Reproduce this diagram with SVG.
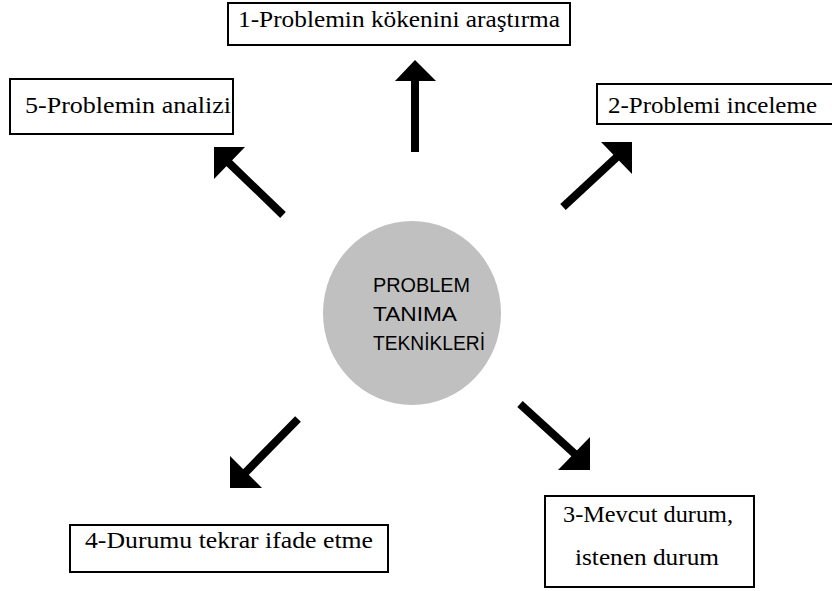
<svg xmlns="http://www.w3.org/2000/svg" width="832" height="591" viewBox="0 0 832 591">
<style>
.box{fill:#fff;stroke:#000;stroke-width:2}
.lbl{font-family:"Liberation Serif","Times New Roman",serif;font-size:23px;fill:#000}
.ctr{font-family:"Liberation Sans",Arial,sans-serif;font-size:21px;fill:#000}
.shaft{stroke:#000;stroke-width:8;fill:none;stroke-linecap:butt}
.head{fill:#000}
</style>
<rect width="832" height="591" fill="#fff"/>
<g id="center">
<ellipse cx="412" cy="313" rx="89" ry="92" fill="#c0c0c0"/>
<text class="ctr" x="373" y="292" textLength="97" lengthAdjust="spacingAndGlyphs">PROBLEM</text>
<text class="ctr" x="373" y="321" textLength="84" lengthAdjust="spacingAndGlyphs">TANIMA</text>
<text class="ctr" x="373" y="350" textLength="112" lengthAdjust="spacingAndGlyphs">TEKNİKLERİ</text>
</g>
<g id="node1">
<rect class="box" x="228" y="3" width="342" height="42"/>
<text class="lbl" x="238" y="27" textLength="322" lengthAdjust="spacingAndGlyphs">1-Problemin kökenini araştırma</text>
</g>
<g id="node2">
<rect class="box" x="597" y="84" width="240" height="40"/>
<text class="lbl" x="608" y="113" textLength="209" lengthAdjust="spacingAndGlyphs">2-Problemi inceleme</text>
</g>
<g id="node3">
<rect class="box" x="545" y="496" width="209" height="91"/>
<text class="lbl" x="563" y="522" textLength="170" lengthAdjust="spacingAndGlyphs">3-Mevcut durum,</text>
<text class="lbl" x="575" y="565" textLength="144" lengthAdjust="spacingAndGlyphs">istenen durum</text>
</g>
<g id="node4">
<rect class="box" x="70" y="525" width="318" height="47"/>
<text class="lbl" x="85" y="548" textLength="288" lengthAdjust="spacingAndGlyphs">4-Durumu tekrar ifade etme</text>
</g>
<g id="node5">
<rect class="box" x="10" y="79" width="223" height="55"/>
<text class="lbl" x="25" y="113" textLength="206" lengthAdjust="spacingAndGlyphs">5-Problemin analizi</text>
</g>
<g id="connectors">
<line class="shaft" x1="415" y1="152" x2="415" y2="79"/>
<polygon class="head" points="415,60 436,81 395,81"/>
<line class="shaft" x1="283" y1="215" x2="228" y2="162"/>
<polygon class="head" points="214,147 245,147 214,179"/>
<line class="shaft" x1="563" y1="207" x2="618" y2="156"/>
<polygon class="head" points="632,142 601,142 632,174"/>
<line class="shaft" x1="298" y1="419" x2="245" y2="473"/>
<polygon class="head" points="230,488 230,456 262,488"/>
<line class="shaft" x1="520" y1="404" x2="576" y2="455"/>
<polygon class="head" points="590,470 590,437 558,470"/>
</g>
</svg>
